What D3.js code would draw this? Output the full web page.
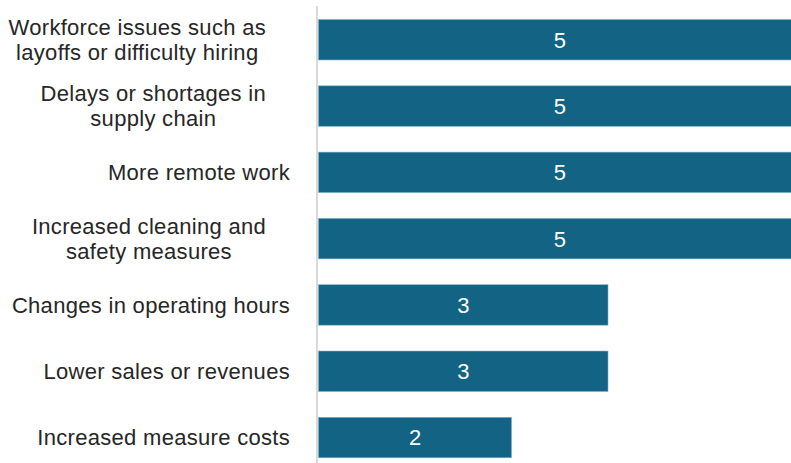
<!DOCTYPE html>
<html>
<head>
<meta charset="utf-8">
<script src="https://cdn.jsdelivr.net/npm/d3@7/dist/d3.min.js"></script>
<style>
  html, body { margin: 0; padding: 0; background: #fff; overflow: hidden; }
  svg { display: block; }
</style>
</head>
<body>
<div id="chart"></div>
<script>
// Reported pandemic impacts and number of responses
const categories = [
  ["Workforce issues such as", "layoffs or difficulty hiring"],
  ["Delays or shortages in", "supply chain"],
  ["More remote work"],
  ["Increased cleaning and", "safety measures"],
  ["Changes in operating hours"],
  ["Lower sales or revenues"],
  ["Increased measure costs"]
];
const values = [5, 5, 5, 5, 3, 3, 2];

const width = 791, height = 463;
const barColor = "#136384";
const fontFamily = "'Liberation Sans', Arial, sans-serif";

const svg = d3.select("#chart").append("svg")
  .attr("width", width).attr("height", height);

const data = categories.map((lines, i) => ({ id: i, lines, value: values[i] }));

const x = d3.scaleLinear().domain([0, 5]).range([318.5, 801]);
const y = d3.scaleBand()
  .domain(data.map(d => d.id))
  .range([6.6, 470.7])
  .paddingInner(0.39)
  .paddingOuter(0.195);

// bars
svg.append("g").selectAll("rect")
  .data(data).join("rect")
  .attr("x", x(0))
  .attr("y", d => y(d.id))
  .attr("width", d => x(d.value) - x(0))
  .attr("height", y.bandwidth())
  .attr("fill", barColor)
  .attr("stroke", "#7fb0c6")
  .attr("stroke-width", 0.6);

// value labels
svg.append("g").selectAll("text")
  .data(data).join("text")
  .attr("x", d => (x(0) + x(d.value)) / 2)
  .attr("y", d => y(d.id) + y.bandwidth() / 2)
  .attr("dy", "0.36em")
  .attr("text-anchor", "middle")
  .attr("fill", "#fff")
  .attr("font-family", fontFamily)
  .attr("font-size", 22)
  .text(d => d.value);

// category axis
const axis = svg.append("g")
  .attr("transform", `translate(${x(0) - 1.5},0)`)
  .call(d3.axisLeft(y).tickSize(0).tickFormat(""));
axis.select(".domain").attr("stroke", "#d9d9d9").attr("stroke-width", 2)
  .attr("d", `M0,6V${height}`);

// category labels: single lines right-aligned, wrapped labels centred as a block
const labelGroup = svg.append("g");
data.forEach(d => {
  const cy = y(d.id) + y.bandwidth() / 2;
  const lh = 25;
  const multi = d.lines.length > 1;
  const t = labelGroup.append("text")
    .attr("text-anchor", multi ? "middle" : "end")
    .attr("font-family", fontFamily)
    .attr("font-size", 22)
    .attr("letter-spacing", 0.3)
    .attr("fill", "#262626");
  const spans = d.lines.map((line, j) =>
    t.append("tspan")
      .attr("y", cy + (j - (d.lines.length - 1) / 2) * lh)
      .attr("dy", "0.35em")
      .text(line));
  if (multi) {
    const w = d3.max(spans, s => s.node().getComputedTextLength());
    spans.forEach(s => s.attr("x", 266 - w / 2));
  } else {
    spans.forEach(s => s.attr("x", 290));
  }
});
</script>
</body>
</html>
